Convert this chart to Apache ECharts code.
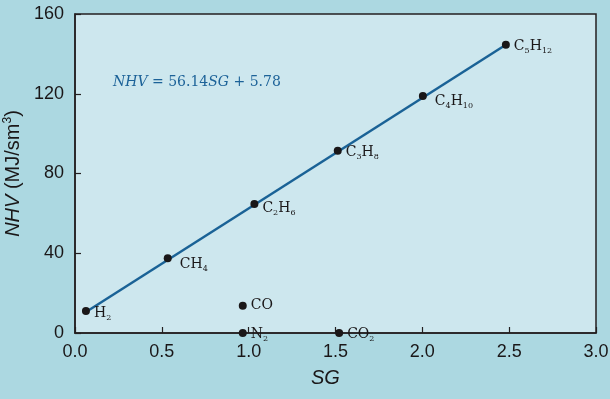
<!DOCTYPE html>
<html>
<head>
<meta charset="utf-8">
<script src="https://cdn.jsdelivr.net/npm/echarts@6/dist/echarts.min.js"></script>
<style>
html,body{margin:0;padding:0;background:#acd8e1;}
#chart{width:610px;height:399px;}
</style>
</head>
<body>
<div id="chart"></div>
<script>
// ---- data ----
const gasNames = ['H2', 'CH4', 'C2H6', 'C3H8', 'C4H10', 'C5H12', 'CO', 'N2', 'CO2'];
const gasLabels = ['H{s|2}', 'CH{s|4}', 'C{s|2}H{s|6}', 'C{s|3}H{s|8}', 'C{s|4}H{s|10}', 'C{s|5}H{s|12}', 'CO', 'N{s|2}', 'CO{s|2}'];
const sgValues = [0.063, 0.534, 1.033, 1.513, 2.003, 2.481, 0.966, 0.966, 1.521];
const nhvValues = [11.0, 37.5, 64.7, 91.4, 118.9, 144.6, 13.7, 0, 0];
const fitSG = [0.063, 2.481];
const fitNHV = [10.5, 144.6];
const xTicks = ['0.0', '0.5', '1.0', '1.5', '2.0', '2.5', '3.0'];
const yTicks = [0, 40, 80, 120, 160];
const equationText = '{i|NHV} = 56.14{i|SG} + 5.78';

// ---- styling (not data) ----
const labelOffsets = [[0, 2], [4, 6], [0, 4], [0, 2], [4, 5], [0, 2], [0, 0], [0, 1], [0, 1]];

const chart = echarts.init(document.getElementById('chart'));
const pointData = gasNames.map((n, i) => ({
  name: n,
  value: [sgValues[i], nhvValues[i]],
  label: { offset: labelOffsets[i], formatter: gasLabels[i] }
}));

const labelRich = {
  s: { fontFamily: 'DejaVu Serif', fontSize: 8, color: '#1a1718', padding: [9, 0, 0, 0] }
};

chart.setOption({
  backgroundColor: '#acd8e1',
  animation: false,
  grid: {
    left: 75, right: 14, top: 14, bottom: 66,
    outerBoundsMode: 'none',
    containLabel: false,
    show: true, backgroundColor: '#cde7ee', borderColor: '#231f20', borderWidth: 1.5
  },
  xAxis: {
    type: 'value', min: 0, max: 3, interval: 0.5,
    axisLine: { show: true, lineStyle: { color: '#231f20', width: 1.5 } },
    axisTick: { show: true, inside: true, length: 6, lineStyle: { color: '#231f20', width: 1.2 } },
    splitLine: { show: false },
    axisLabel: {
      fontFamily: 'Liberation Sans', fontSize: 18, color: '#1a1718', margin: 10,
      formatter: (v) => xTicks[Math.round(v / 0.5)]
    }
  },
  yAxis: {
    type: 'value', min: 0, max: 160, interval: 40,
    axisLine: { show: true, lineStyle: { color: '#231f20', width: 1.5 } },
    axisTick: { show: true, inside: true, length: 6, lineStyle: { color: '#231f20', width: 1.2 } },
    splitLine: { show: false },
    axisLabel: {
      fontFamily: 'Liberation Sans', fontSize: 18, color: '#1a1718', margin: 11,
      formatter: (v) => String(yTicks[Math.round(v / 40)])
    },
    name: '{i|NHV} (MJ/sm{sup|3})',
    nameLocation: 'middle',
    nameGap: 45,
    nameTextStyle: {
      fontFamily: 'Liberation Sans', fontSize: 20, color: '#1a1718',
      rich: {
        i: { fontFamily: 'Liberation Sans', fontSize: 20, fontStyle: 'italic', color: '#1a1718' },
        sup: { fontFamily: 'Liberation Sans', fontSize: 12, color: '#1a1718', padding: [0, 0, 10, 0] }
      }
    }
  },
  graphic: [
    {
      type: 'text', left: 311, top: 368,
      style: { text: 'SG', fontFamily: 'Liberation Sans', fontSize: 20, fontStyle: 'italic', fill: '#1a1718' }
    },
    {
      type: 'text', left: 113, top: 75,
      style: {
        text: equationText, fontFamily: 'DejaVu Serif', fontSize: 14, fill: '#1c6298',
        rich: { i: { fontFamily: 'DejaVu Serif', fontSize: 14, fontStyle: 'italic', fill: '#1c6298' } }
      }
    }
  ],
  series: [
    {
      type: 'line',
      data: fitSG.map((x, i) => [x, fitNHV[i]]),
      symbol: 'none',
      lineStyle: { color: '#1a6296', width: 2.5 },
      z: 2
    },
    {
      type: 'scatter',
      data: pointData,
      symbolSize: 8,
      itemStyle: { color: '#1a1718', opacity: 1 },
      label: {
        show: true, position: 'right', distance: 4,
        fontFamily: 'DejaVu Serif', fontSize: 14, color: '#1a1718',
        rich: labelRich
      },
      z: 3
    }
  ]
});
</script>
</body>
</html>
